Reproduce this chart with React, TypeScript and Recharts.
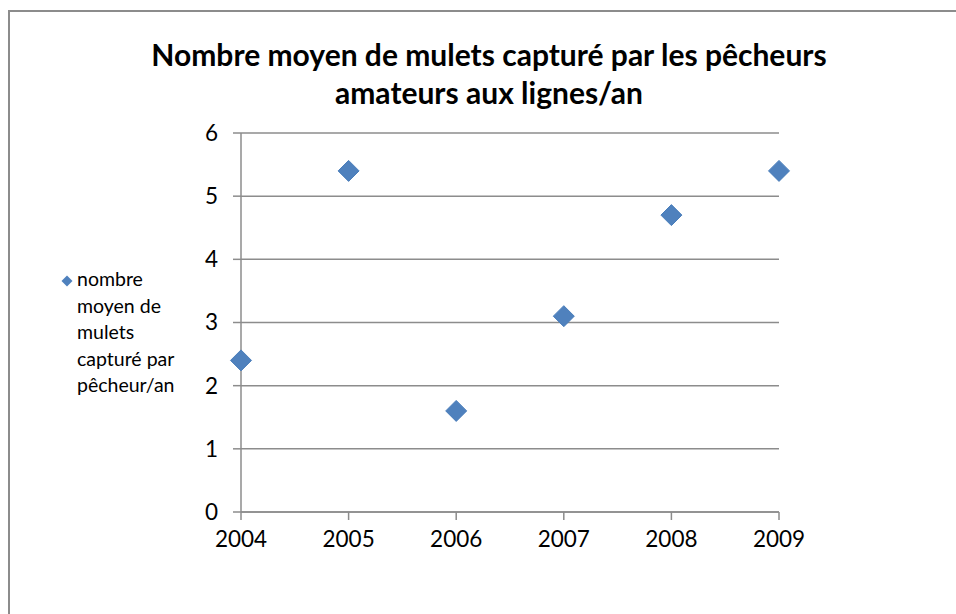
import React from 'react'
import { ScatterChart, Scatter, XAxis, YAxis, CartesianGrid } from 'recharts'

const years = [2004, 2005, 2006, 2007, 2008, 2009]
const catches = [2.4, 5.4, 1.6, 3.1, 4.7, 5.4]
const yTicks = [0, 1, 2, 3, 4, 5, 6]
const seriesName = 'nombre moyen de mulets capturé par pêcheur/an'
const legendLines = ['nombre', 'moyen de', 'mulets', 'capturé par', 'pêcheur/an']
const titleLines = ['Nombre moyen de mulets capturé par les pêcheurs', 'amateurs aux lignes/an']

const data = years.map((year, i) => ({ year, value: catches[i] }))

const FONT = 'Lato, "Open Sans", sans-serif'
const BLUE = '#4F81BD'

const Diamond = (props: any) => {
  const { cx, cy } = props
  const r = 10.5
  return (
    <path
      d={`M${cx},${cy - r}L${cx + r},${cy}L${cx},${cy + r}L${cx - r},${cy}Z`}
      fill={BLUE}
      stroke="#4A7EBB"
      strokeWidth={1}
    />
  )
}

export default function App() {
  return (
    <div style={{ position: 'fixed', left: 0, top: 0, width: 956, height: 614, background: '#fff', fontFamily: FONT }}>
      <div
        style={{
          position: 'absolute',
          left: 8,
          top: 10,
          width: 960,
          height: 620,
          borderLeft: '2px solid #8c8c8c',
          borderTop: '2px solid #8c8c8c',
        }}
      />
      <div
        style={{
          position: 'absolute',
          left: 0,
          top: 35,
          width: 978,
          textAlign: 'center',
          fontWeight: 700,
          fontSize: 30,
          lineHeight: '38px',
          color: '#000',
        }}
      >
        {titleLines.map((t) => (
          <div key={t}>{t}</div>
        ))}
      </div>
      <div style={{ position: 'absolute', left: 56, top: 266, fontSize: 19.5, lineHeight: '26.5px', color: '#000' }} title={seriesName}>
        <svg width={20} height={20} style={{ position: 'absolute', left: 1, top: 5 }}>
          <path d="M10,4.5L15.5,10L10,15.5L4.5,10Z" fill={BLUE} />
        </svg>
        <div style={{ marginLeft: 21 }}>
          {legendLines.map((t) => (
            <div key={t}>{t}</div>
          ))}
        </div>
      </div>
      <div style={{ position: 'absolute', left: 0, top: 0 }}>
        <ScatterChart width={956} height={614} margin={{ top: 133, right: 177, bottom: 72, left: 201 }}>
          <CartesianGrid vertical={false} stroke="#8c8c8c" strokeWidth={1.5} />
          <XAxis
            type="number"
            dataKey="year"
            domain={[2004, 2009]}
            ticks={years}
            interval={0}
            height={30}
            tickSize={8}
            tickMargin={11}
            stroke="#8c8c8c"
            strokeWidth={1.5}
            tick={{ fill: '#000', fontSize: 22.5, fontFamily: FONT }}
          />
          <YAxis
            type="number"
            dataKey="value"
            domain={[0, 6]}
            ticks={yTicks}
            interval={0}
            width={40}
            tickSize={8}
            tickMargin={15}
            stroke="#8c8c8c"
            strokeWidth={1.5}
            tick={{ fill: '#000', fontSize: 22.5, fontFamily: FONT }}
          />
          <Scatter name={seriesName} data={data} shape={Diamond} isAnimationActive={false} />
        </ScatterChart>
      </div>
    </div>
  )
}
